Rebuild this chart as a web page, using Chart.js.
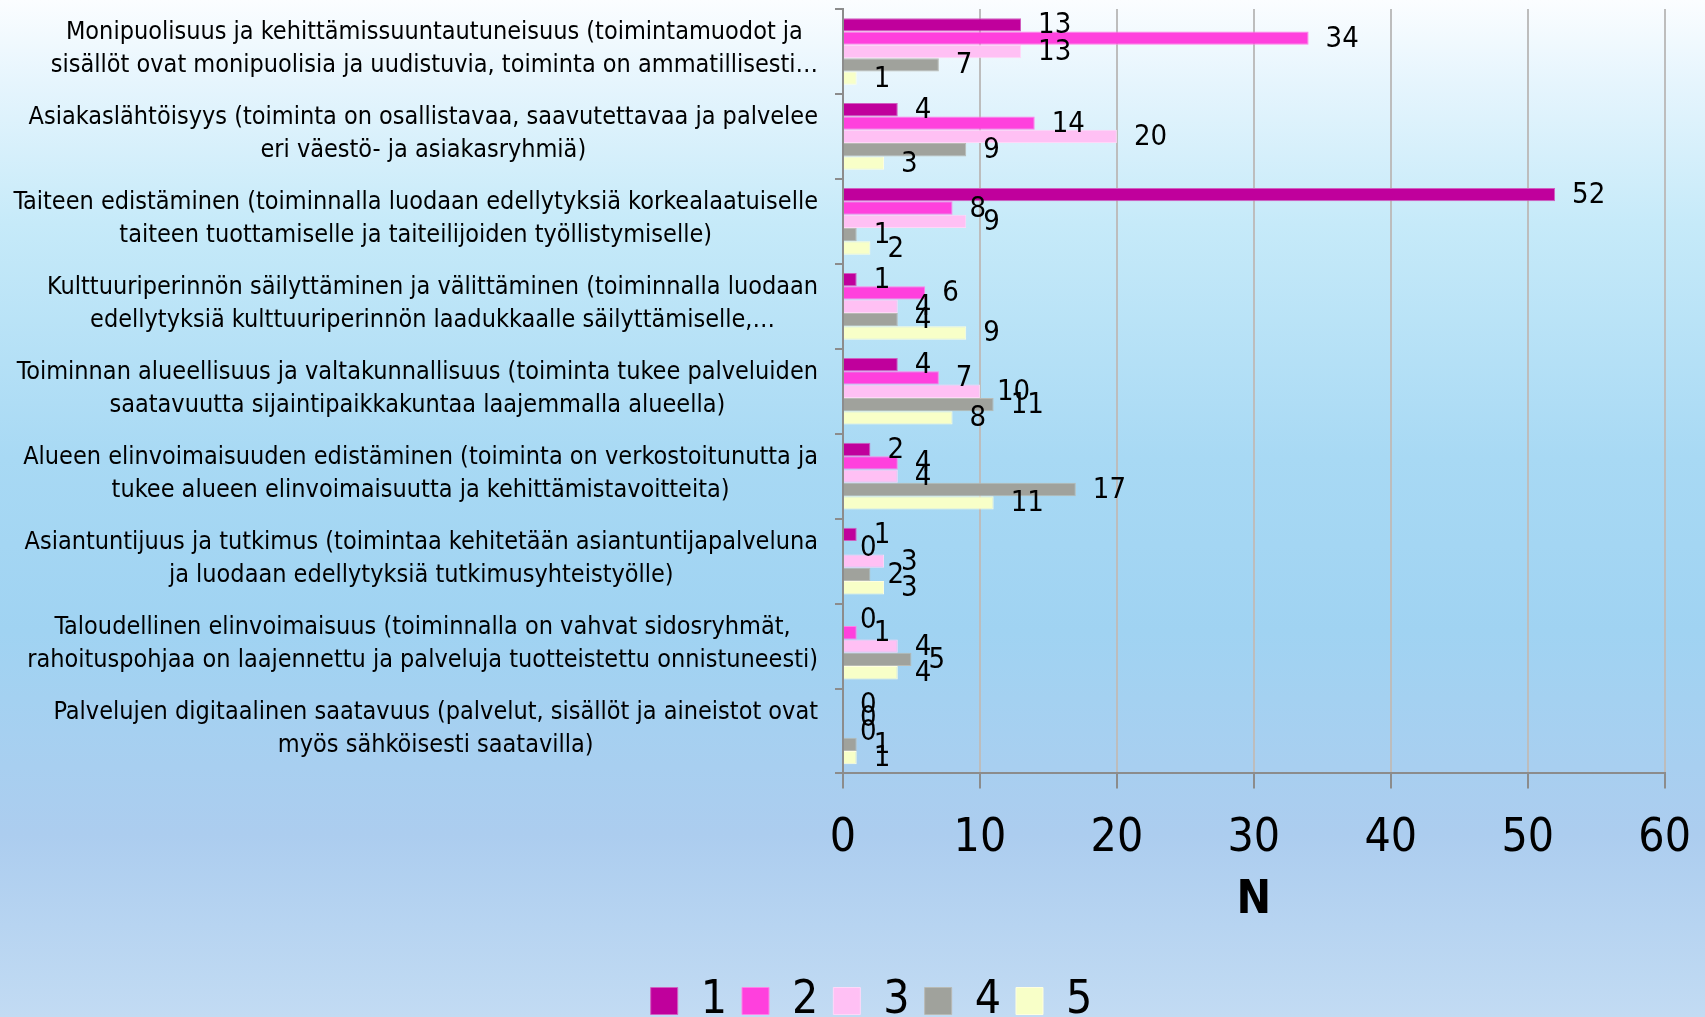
<!DOCTYPE html>
<html>
<head>
<meta charset="utf-8">
<script src="https://cdn.jsdelivr.net/npm/chart.js@4.4.0/dist/chart.umd.min.js"></script>
<style>
  html, body { margin: 0; padding: 0; }
  body {
    width: 1705px; height: 1017px; overflow: hidden;
    background: linear-gradient(to bottom, #fbfdff 0%, #e6f5fd 8%, #c6eaf9 22%, #a8d9f4 45%, #a0d3f2 62%, #accdef 82%, #c2dbf3 100%);
  }
  #wrap { width: 1705px; height: 1017px; }
</style>
</head>
<body>
<div id="wrap"><canvas id="chart" width="1705" height="1017"></canvas></div>
<script>
// ---- data ----
const categories = [
  ["Monipuolisuus ja kehittämissuuntautuneisuus (toimintamuodot ja", "sisällöt ovat monipuolisia ja uudistuvia, toiminta on ammatillisesti…"],
  ["Asiakaslähtöisyys (toiminta on osallistavaa, saavutettavaa ja palvelee", "eri väestö- ja asiakasryhmiä)"],
  ["Taiteen edistäminen (toiminnalla luodaan edellytyksiä korkealaatuiselle", "taiteen tuottamiselle ja taiteilijoiden työllistymiselle)"],
  ["Kulttuuriperinnön säilyttäminen ja välittäminen (toiminnalla luodaan", "edellytyksiä kulttuuriperinnön laadukkaalle säilyttämiselle,…"],
  ["Toiminnan alueellisuus ja valtakunnallisuus (toiminta tukee palveluiden", "saatavuutta sijaintipaikkakuntaa laajemmalla alueella)"],
  ["Alueen elinvoimaisuuden edistäminen (toiminta on verkostoitunutta ja", "tukee alueen elinvoimaisuutta ja kehittämistavoitteita)"],
  ["Asiantuntijuus ja tutkimus (toimintaa kehitetään asiantuntijapalveluna", "ja luodaan edellytyksiä tutkimusyhteistyölle)"],
  ["Taloudellinen elinvoimaisuus (toiminnalla on vahvat sidosryhmät,", "rahoituspohjaa on laajennettu ja palveluja tuotteistettu onnistuneesti)"],
  ["Palvelujen digitaalinen saatavuus (palvelut, sisällöt ja aineistot ovat", "myös sähköisesti saatavilla)"]
];

const seriesNames = ["1", "2", "3", "4", "5"];
const rating1 = [13, 4, 52, 1, 4, 2, 1, 0, 0];
const rating2 = [34, 14, 8, 6, 7, 4, 0, 1, 0];
const rating3 = [13, 20, 9, 4, 10, 4, 3, 4, 0];
const rating4 = [7, 9, 1, 4, 11, 17, 2, 5, 1];
const rating5 = [1, 3, 2, 9, 8, 11, 3, 4, 1];

const xTicks = [0, 10, 20, 30, 40, 50, 60];
const axisTitle = "N";

const fillColors = ["#C0009C", "#FF40DD", "#FFC0F4", "#A0A29C", "#F8FFC8"];
const edgeColors = ["#D060C0", "#FF80E8", "#FFD8F8", "#B8BAB4", "#FFFFE0"];

const FONT = "'DejaVu Sans Condensed', 'DejaVu Sans', sans-serif";

// ---- category labels: block right-aligned, lines centered ----
const categoryLabels = {
  id: "categoryLabels",
  afterDraw(chart) {
    const ctx = chart.ctx;
    const y = chart.scales.y;
    const rightEdge = chart.chartArea.left - 25;
    ctx.save();
    ctx.font = "25px " + FONT;
    ctx.fillStyle = "#000";
    ctx.textAlign = "center";
    ctx.textBaseline = "middle";
    categories.forEach((lines, i) => {
      const cy = y.getPixelForValue(i) - 2;
      let widest = 0;
      lines.forEach(l => { widest = Math.max(widest, ctx.measureText(l).width); });
      const cx = rightEdge - widest / 2;
      const step = 33;
      const start = cy - (lines.length - 1) * step / 2;
      lines.forEach((l, k) => ctx.fillText(l, cx, start + k * step));
    });
    ctx.restore();
  }
};

// ---- value labels at bar ends ----
const valueLabels = {
  id: "valueLabels",
  afterDatasetsDraw(chart) {
    const ctx = chart.ctx;
    ctx.save();
    ctx.font = "29px " + FONT;
    ctx.fillStyle = "#000";
    ctx.textAlign = "left";
    ctx.textBaseline = "middle";
    chart.data.datasets.forEach((ds, di) => {
      chart.getDatasetMeta(di).data.forEach((bar, i) => {
        ctx.fillText(String(ds.data[i]), bar.x + 17, bar.y + 1);
      });
    });
    ctx.restore();
  }
};

const allSeries = [rating1, rating2, rating3, rating4, rating5];

new Chart(document.getElementById("chart"), {
  type: "bar",
  data: {
    labels: categories,
    datasets: allSeries.map((vals, i) => ({
      label: seriesNames[i],
      data: vals,
      backgroundColor: fillColors[i],
      borderColor: edgeColors[i],
      borderWidth: 1,
      categoryPercentage: 0.785,
      barPercentage: 1.0
    }))
  },
  options: {
    indexAxis: "y",
    responsive: false,
    animation: false,
    layout: { padding: { top: 9, right: 40, bottom: -17, left: 78 } },
    scales: {
      x: {
        min: 0,
        max: 60,
        afterBuildTicks: s => { s.ticks = xTicks.map(v => ({ value: v })); },
        ticks: { font: { family: FONT, size: 46, lineHeight: 1.59 }, color: "#000", padding: 14, maxRotation: 0, autoSkip: false },
        grid: { color: "#BDBDBD", lineWidth: 2, tickColor: "#8C8C8C", tickLength: 15 },
        border: { color: "#8C8C8C", width: 2 },
        title: { display: true, text: axisTitle, color: "#000",
          font: { family: FONT, size: 46, weight: "bold", lineHeight: 0.4 }, padding: { top: 2, bottom: 53 } }
      },
      y: {
        ticks: { display: false },
        afterFit: s => { s.width = 765; },
        grid: { drawOnChartArea: false, tickColor: "#8C8C8C", tickLength: 8, lineWidth: 2, offset: true },
        border: { color: "#8C8C8C", width: 2 }
      }
    },
    plugins: {
      legend: {
        position: "bottom",
        labels: { font: { family: FONT, size: 46 }, color: "#000", boxWidth: 27, boxHeight: 27, padding: 15 }
      },
      tooltip: { enabled: false }
    }
  },
  plugins: [categoryLabels, valueLabels]
});
</script>
</body>
</html>
